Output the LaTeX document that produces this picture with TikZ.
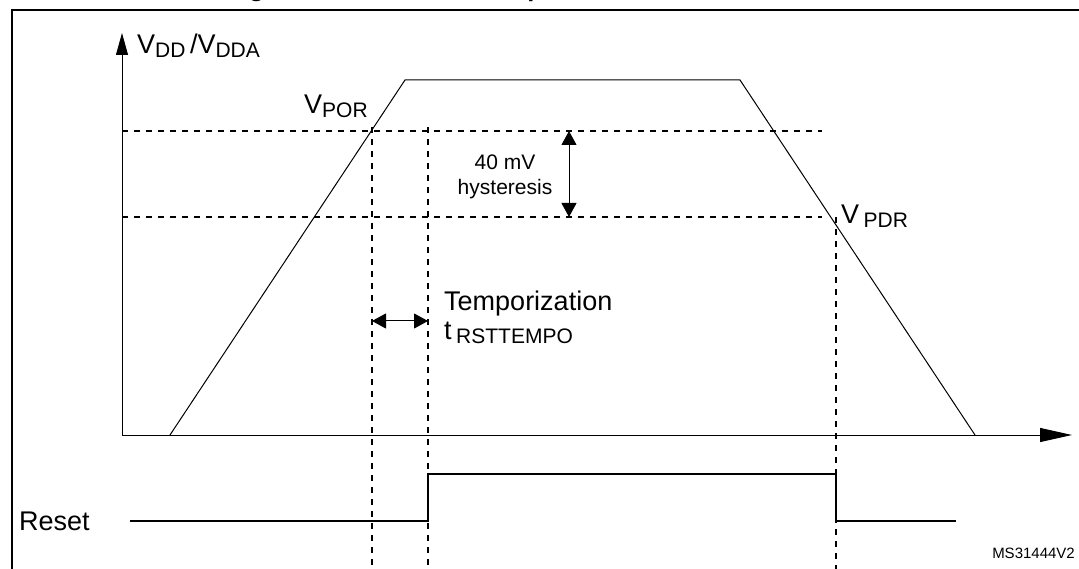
\documentclass[tikz,border=0pt]{standalone}
\usepackage{fontspec}
\setmainfont{Liberation Sans}
\usetikzlibrary{arrows.meta}
\newcommand{\sbs}[1]{\raisebox{-0.3ex}{\fontsize{21}{22}\selectfont #1}}
\begin{document}
\begin{tikzpicture}[x=1pt,y=-1pt,
  dsh/.style={dash pattern=on 6pt off 6pt,line width=1.1pt},
  lbl/.style={inner sep=0pt,font=\fontsize{27}{30}\selectfont},
  sm/.style={inner sep=0pt,font=\fontsize{21}{25}\selectfont},
  dar/.style={line width=1pt,{Triangle[length=14pt,width=15pt]}-{Triangle[length=14pt,width=15pt]}}]
\useasboundingbox (0,0) rectangle (1079,569);
\node[font=\bfseries\itshape\fontsize{25}{28}\selectfont,anchor=base] (title) at (548,-3) {Figure 8. Power-on reset/power-down reset waveform};
\draw[line width=1.3pt] (12,569) -- (12,10) -- (1082,10);
% axes
\coordinate (o) at (122,435);
\coordinate (yt) at (122,33);
\coordinate (xt) at (1072,435);
\draw[line width=1pt,-{Triangle[length=22pt,width=12pt]}] (o) -- (yt);
\draw[line width=1pt,-{Triangle[length=32pt,width=14pt]}] (o) -- (xt);
\node[lbl,anchor=west] (vdd) at (137,46) {V\sbs{DD}\,/V\sbs{DDA}};
% trapezoid
\coordinate (a) at (170,435); \coordinate (b) at (405,80);
\coordinate (c) at (740,80); \coordinate (d) at (975,435);
\draw[line width=1pt] (a) -- (b) -- (c) -- (d);
% thresholds
\coordinate (p1) at (122,131); \coordinate (p2) at (822,131);
\coordinate (q1) at (122,217); \coordinate (q2) at (822,217);
\draw[dsh] (p1) -- (p2);
\draw[dsh] (q1) -- (q2);
\node[lbl,anchor=west] (vpor) at (304,106) {V\sbs{POR}};
\node[lbl,anchor=west] (vpdr) at (841,216) {V\,\sbs{PDR}};
% verticals
\coordinate (v1a) at (372,127); \coordinate (v1b) at (372,569);
\coordinate (v2a) at (428,127); \coordinate (v2b) at (428,569);
\coordinate (v3a) at (836,217); \coordinate (v3b) at (836,569);
\draw[dsh] (v1a) -- (v1b);
\draw[dsh] (v2a) -- (v2b);
\draw[dsh] (v3a) -- (v3b);
% hysteresis
\coordinate (h1) at (569,131); \coordinate (h2) at (569,217);
\draw[dar] (h1) -- (h2);
\node[sm,align=center] (hys) at (505,177) {40 mV\\hysteresis};
% temporization
\coordinate (t1) at (372,321); \coordinate (t2) at (428,321);
\draw[dar] (t1) -- (t2);
\node[lbl,anchor=west] (temp) at (444,304) {Temporization};
\node[lbl,anchor=west] (trst) at (444,333) {t\,\sbs{RSTTEMPO}};
% reset
\node[lbl,anchor=west] (rst) at (19,521) {Reset};
\coordinate (r0) at (130,521); \coordinate (r1) at (428,521);
\coordinate (r2) at (428,474); \coordinate (r3) at (836,474);
\coordinate (r4) at (836,521); \coordinate (r5) at (956,521);
\draw[line width=2.3pt] (r0) -- (r1) -- (r2) -- (r3) -- (r4) -- (r5);
\node[inner sep=0pt,font=\fontsize{15}{17}\selectfont,anchor=east] (ms) at (1075,553) {MS31444V2};
\end{tikzpicture}
\end{document}
